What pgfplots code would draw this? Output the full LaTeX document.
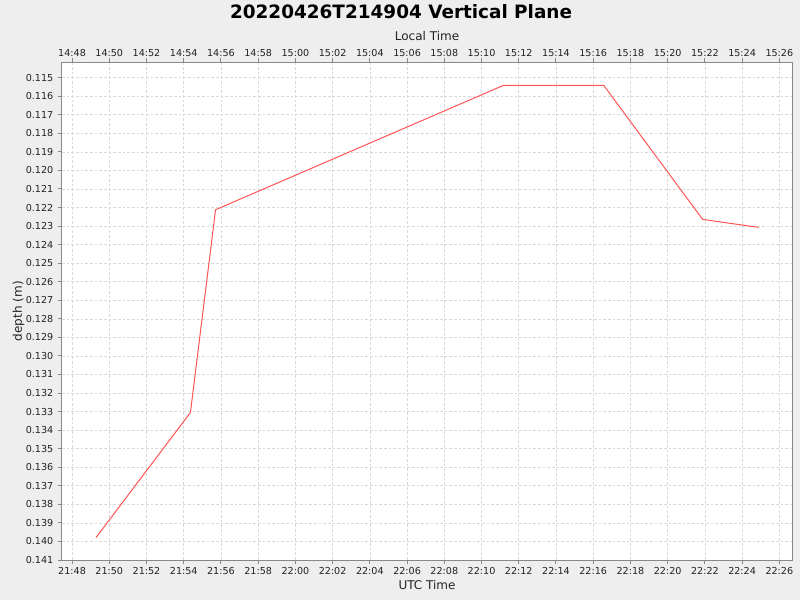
\documentclass[border=0pt]{standalone}
\usepackage{fontspec}
\setmainfont{DejaVu Sans}
\usepackage{pgfplots}
\pgfplotsset{compat=1.18}
\definecolor{bg}{HTML}{EEEEEE}
\definecolor{gridc}{HTML}{D8D8D8}
\definecolor{framec}{HTML}{888888}
\definecolor{linec}{HTML}{FF5555}
\definecolor{txt}{HTML}{222222}
\begin{document}
\begin{tikzpicture}
\fill[bg] (0,0) rectangle (600pt,450pt);
\useasboundingbox (0,0) rectangle (600pt,450pt);
\node[font=\bfseries\fontsize{13.8pt}{16pt}\selectfont, text=black] at (300.75pt,441pt) {20220426T214904 Vertical Plane};
\begin{axis}[
  at={(46.5pt,30pt)}, anchor=south west,
  scale only axis, width=547.5pt, height=373.3pt,
  xmin=-0.54, xmax=38.68,
  ymin=0.11417, ymax=0.141, y dir=reverse,
  axis background/.style={fill=white},
  axis line style={framec, line width=0.75pt},
  tick align=outside, major tick length=3pt,
  tick style={framec, line width=0.75pt},
  xtick pos=lower, ytick pos=left,
  xtick={0,2,4,6,8,10,12,14,16,18,20,22,24,26,28,30,32,34,36,38},
  xticklabels={21:48,21:50,21:52,21:54,21:56,21:58,22:00,22:02,22:04,22:06,22:08,22:10,22:12,22:14,22:16,22:18,22:20,22:22,22:24,22:26},
  ytick={0.115,0.116,0.117,0.118,0.119,0.120,0.121,0.122,0.123,0.124,0.125,0.126,0.127,0.128,0.129,0.130,0.131,0.132,0.133,0.134,0.135,0.136,0.137,0.138,0.139,0.140,0.141},
  yticklabels={0.115,0.116,0.117,0.118,0.119,0.120,0.121,0.122,0.123,0.124,0.125,0.126,0.127,0.128,0.129,0.130,0.131,0.132,0.133,0.134,0.135,0.136,0.137,0.138,0.139,0.140,0.141},
  scaled y ticks=false,
  ticklabel style={font=\fontsize{7.2pt}{8pt}\selectfont, text=txt},
  xticklabel style={yshift=1pt},
  grid=major,
  major grid style={gridc, dash pattern=on 2pt off 1.5pt, line width=0.5pt},
  xlabel={UTC Time}, ylabel={depth (m)},
  label style={font=\fontsize{9pt}{10pt}\selectfont, text=txt},
  xlabel style={yshift=2.5pt},
  ylabel style={yshift=-5.75pt},
]
\addplot[linec, line width=0.75pt, mark=none] coordinates {
(1.29,0.13979)
(6.36,0.13305)
(7.71,0.12212)
(23.19,0.11541)
(28.56,0.11541)
(33.88,0.12264)
(36.89,0.12307)
};
\end{axis}
\begin{axis}[
  at={(46.5pt,30pt)}, anchor=south west,
  scale only axis, width=547.5pt, height=373.3pt,
  xmin=-0.54, xmax=38.68,
  ymin=0.11417, ymax=0.141, y dir=reverse,
  axis x line*=top, axis y line=none,
  axis line style={framec, line width=0.75pt, -},
  tick align=outside, major tick length=3pt,
  tick style={framec, line width=0.75pt},
  xtick={0,2,4,6,8,10,12,14,16,18,20,22,24,26,28,30,32,34,36,38},
  xticklabels={14:48,14:50,14:52,14:54,14:56,14:58,15:00,15:02,15:04,15:06,15:08,15:10,15:12,15:14,15:16,15:18,15:20,15:22,15:24,15:26},
  ticklabel style={font=\fontsize{7.2pt}{8pt}\selectfont, text=txt},
  xticklabel style={yshift=-2pt},
  xlabel={Local Time},
  label style={font=\fontsize{9pt}{10pt}\selectfont, text=txt},
  xlabel style={yshift=-1pt},
]
\end{axis}
\end{tikzpicture}
\end{document}
